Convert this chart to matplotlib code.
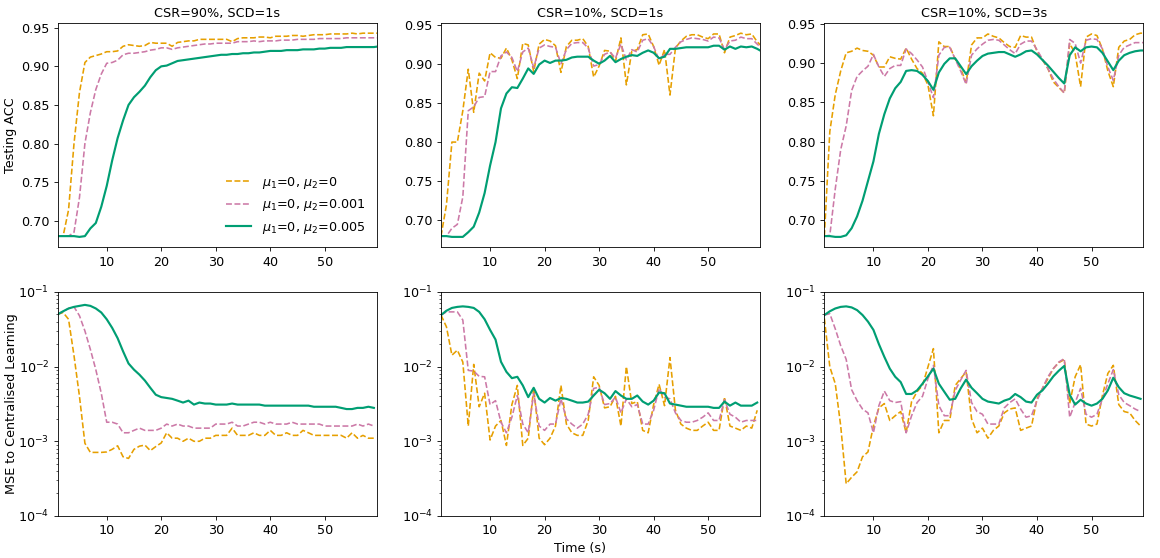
import numpy as np
import matplotlib
matplotlib.use("Agg")
import matplotlib.pyplot as plt

plt.rcParams['font.size'] = 9.2
plt.rcParams['axes.linewidth'] = 0.6
plt.rcParams['xtick.major.size'] = 2.6
plt.rcParams['ytick.major.size'] = 2.6
plt.rcParams['xtick.major.width'] = 0.6
plt.rcParams['ytick.major.width'] = 0.6
plt.rcParams['ytick.minor.size'] = 1.6
plt.rcParams['ytick.minor.width'] = 0.45

titles = ["CSR=90%, SCD=1s", "CSR=10%, SCD=1s", "CSR=10%, SCD=3s"]
labels = [r"$\mu_1$=0, $\mu_2$=0", r"$\mu_1$=0, $\mu_2$=0.001", r"$\mu_1$=0, $\mu_2$=0.005"]
colors = ["#E69F00", "#CC79A7", "#009E73"]

t_acc = np.arange(1, 61)
t_mse = np.arange(1, 60)

# ---- Testing ACC ----
acc_a_0 = [0.68, 0.68, 0.714, 0.80, 0.866, 0.905, 0.912, 0.914, 0.916, 0.919,
           0.919, 0.920, 0.926, 0.928, 0.927, 0.926, 0.927, 0.931, 0.930, 0.930,
           0.930, 0.926, 0.931, 0.932, 0.933, 0.933, 0.935, 0.935, 0.935, 0.935,
           0.935, 0.935, 0.932, 0.936, 0.937, 0.937, 0.937, 0.938, 0.938, 0.937,
           0.939, 0.939, 0.939, 0.940, 0.940, 0.939, 0.940, 0.941, 0.941, 0.941,
           0.942, 0.942, 0.942, 0.942, 0.943, 0.942, 0.943, 0.943, 0.943, 0.943]
acc_a_1 = [0.68, 0.68, 0.68, 0.685, 0.73, 0.80, 0.84, 0.87, 0.89, 0.904,
           0.905, 0.908, 0.915, 0.917, 0.917, 0.918, 0.919, 0.921, 0.922, 0.924,
           0.924, 0.922, 0.924, 0.925, 0.926, 0.927, 0.928, 0.929, 0.929, 0.930,
           0.930, 0.930, 0.930, 0.932, 0.932, 0.932, 0.933, 0.932, 0.933, 0.933,
           0.933, 0.934, 0.934, 0.934, 0.935, 0.935, 0.935, 0.935, 0.936, 0.936,
           0.936, 0.936, 0.936, 0.937, 0.937, 0.937, 0.937, 0.937, 0.937, 0.937]
acc_a_5 = [0.68, 0.68, 0.68, 0.68, 0.679, 0.68, 0.69, 0.697, 0.718, 0.745,
           0.778, 0.807, 0.83, 0.85, 0.86, 0.867, 0.875, 0.886, 0.895, 0.900,
           0.901, 0.904, 0.907, 0.908, 0.909, 0.910, 0.911, 0.912, 0.913, 0.914,
           0.915, 0.915, 0.916, 0.916, 0.917, 0.917, 0.918, 0.918, 0.919, 0.920,
           0.920, 0.920, 0.921, 0.921, 0.921, 0.922, 0.922, 0.922, 0.923, 0.923,
           0.924, 0.924, 0.924, 0.925, 0.925, 0.925, 0.925, 0.925, 0.925, 0.926]

acc_b_0 = [0.68, 0.72, 0.80, 0.80, 0.84, 0.893, 0.838, 0.888, 0.878, 0.914,
           0.908, 0.907, 0.920, 0.905, 0.881, 0.926, 0.924, 0.890, 0.925, 0.931,
           0.929, 0.923, 0.889, 0.922, 0.930, 0.930, 0.932, 0.922, 0.883, 0.897,
           0.917, 0.916, 0.903, 0.933, 0.873, 0.916, 0.918, 0.937, 0.938, 0.922,
           0.898, 0.918, 0.860, 0.920, 0.929, 0.935, 0.937, 0.937, 0.934, 0.932,
           0.938, 0.938, 0.914, 0.934, 0.936, 0.939, 0.937, 0.938, 0.928, 0.921]
acc_b_1 = [0.68, 0.68, 0.69, 0.695, 0.73, 0.84, 0.845, 0.857, 0.858, 0.89,
           0.89, 0.91, 0.915, 0.908, 0.89, 0.915, 0.92, 0.895, 0.92, 0.924,
           0.922, 0.921, 0.90, 0.918, 0.926, 0.927, 0.927, 0.92, 0.897, 0.899,
           0.912, 0.915, 0.907, 0.925, 0.905, 0.918, 0.915, 0.930, 0.932, 0.922,
           0.905, 0.912, 0.912, 0.921, 0.928, 0.931, 0.933, 0.932, 0.931, 0.929,
           0.934, 0.933, 0.918, 0.929, 0.930, 0.934, 0.932, 0.932, 0.925, 0.919]
acc_b_5 = [0.68, 0.680, 0.679, 0.679, 0.679, 0.685, 0.692, 0.71, 0.735, 0.77,
           0.80, 0.843, 0.862, 0.87, 0.869, 0.881, 0.894, 0.887, 0.899, 0.904,
           0.901, 0.904, 0.904, 0.905, 0.908, 0.909, 0.909, 0.909, 0.904, 0.900,
           0.904, 0.910, 0.902, 0.906, 0.909, 0.911, 0.910, 0.914, 0.917, 0.914,
           0.907, 0.909, 0.919, 0.919, 0.920, 0.921, 0.921, 0.921, 0.921, 0.921,
           0.923, 0.923, 0.918, 0.922, 0.919, 0.922, 0.921, 0.922, 0.919, 0.915]

acc_c_0 = [0.68, 0.813, 0.86, 0.89, 0.913, 0.915, 0.919, 0.916, 0.915, 0.910,
           0.895, 0.895, 0.908, 0.906, 0.905, 0.919, 0.905, 0.893, 0.887, 0.872,
           0.833, 0.927, 0.921, 0.921, 0.905, 0.893, 0.875, 0.923, 0.932, 0.932,
           0.937, 0.934, 0.932, 0.926, 0.921, 0.920, 0.935, 0.933, 0.933, 0.915,
           0.904, 0.893, 0.876, 0.869, 0.862, 0.925, 0.912, 0.870, 0.933, 0.937,
           0.935, 0.918, 0.890, 0.870, 0.920, 0.928, 0.930, 0.936, 0.938, 0.938]
acc_c_1 = [0.68, 0.681, 0.74, 0.79, 0.82, 0.865, 0.883, 0.89, 0.896, 0.911,
           0.895, 0.883, 0.893, 0.897, 0.897, 0.918, 0.912, 0.904, 0.895, 0.876,
           0.856, 0.910, 0.920, 0.920, 0.905, 0.890, 0.873, 0.910, 0.918, 0.924,
           0.929, 0.930, 0.929, 0.923, 0.917, 0.912, 0.924, 0.928, 0.928, 0.917,
           0.905, 0.893, 0.880, 0.870, 0.862, 0.930, 0.925, 0.900, 0.929, 0.931,
           0.930, 0.918, 0.895, 0.878, 0.910, 0.920, 0.923, 0.926, 0.926, 0.926]
acc_c_5 = [0.68, 0.680, 0.679, 0.679, 0.681, 0.69, 0.705, 0.725, 0.75, 0.775,
           0.81, 0.835, 0.855, 0.868, 0.876, 0.890, 0.891, 0.890, 0.885, 0.877,
           0.866, 0.888, 0.899, 0.906, 0.906, 0.896, 0.886, 0.896, 0.903, 0.909,
           0.912, 0.913, 0.914, 0.914, 0.911, 0.908, 0.911, 0.915, 0.916, 0.911,
           0.904, 0.897, 0.889, 0.881, 0.874, 0.910, 0.920, 0.915, 0.920, 0.921,
           0.920, 0.913, 0.902, 0.891, 0.903, 0.910, 0.913, 0.915, 0.916, 0.916]

# ---- MSE to centralised learning ----
mse_a_0 = [0.050, 0.053, 0.043, 0.014, 0.0040, 0.00094, 0.00071, 0.00071, 0.00071, 0.00072,
           0.00078, 0.00087, 0.00062, 0.00059, 0.00078, 0.00086, 0.00089, 0.00075, 0.00085, 0.00095,
           0.0013, 0.0011, 0.0011, 0.0010, 0.0011, 0.0010, 0.0010, 0.0011, 0.0011, 0.0012,
           0.0012, 0.0012, 0.0015, 0.0012, 0.0012, 0.0012, 0.0013, 0.0012, 0.0012, 0.0014,
           0.0012, 0.0012, 0.0013, 0.0012, 0.0012, 0.0014, 0.0013, 0.0012, 0.0012, 0.0012,
           0.0012, 0.0012, 0.0012, 0.0011, 0.0013, 0.0011, 0.0012, 0.0011, 0.0011]
mse_a_1 = [0.050, 0.055, 0.060, 0.063, 0.048, 0.030, 0.017, 0.0091, 0.0044, 0.0018,
           0.0018, 0.0017, 0.0013, 0.0013, 0.0014, 0.0015, 0.0014, 0.0014, 0.0014, 0.0015,
           0.0017, 0.0016, 0.0017, 0.0016, 0.0016, 0.0015, 0.0015, 0.0015, 0.0015, 0.0017,
           0.0017, 0.0017, 0.0018, 0.0016, 0.0016, 0.0017, 0.0018, 0.0018, 0.0017, 0.0018,
           0.0017, 0.0017, 0.0017, 0.0018, 0.0017, 0.0017, 0.0017, 0.0017, 0.0017, 0.0016,
           0.0016, 0.0016, 0.0016, 0.0016, 0.0016, 0.0017, 0.0016, 0.0017, 0.0016]
mse_a_5 = [0.050, 0.055, 0.060, 0.063, 0.065, 0.067, 0.065, 0.060, 0.053, 0.043,
           0.033, 0.024, 0.016, 0.011, 0.0091, 0.0078, 0.0065, 0.0052, 0.0042, 0.0039,
           0.0038, 0.0037, 0.0035, 0.0033, 0.0035, 0.0031, 0.0033, 0.0032, 0.0032, 0.0031,
           0.0031, 0.0031, 0.0032, 0.0031, 0.0031, 0.0031, 0.0031, 0.0031, 0.0030, 0.0030,
           0.0030, 0.0030, 0.0030, 0.0030, 0.0030, 0.0030, 0.0030, 0.0029, 0.0029, 0.0029,
           0.0029, 0.0029, 0.0028, 0.0027, 0.0027, 0.0028, 0.0028, 0.0029, 0.0028]

mse_b_0 = [0.049, 0.034, 0.0142, 0.0166, 0.0115, 0.0016, 0.0107, 0.0029, 0.0044, 0.00104,
           0.0016, 0.0019, 0.00088, 0.0031, 0.0056, 0.00088, 0.0011, 0.0051, 0.0011, 0.0009,
           0.0011, 0.0016, 0.0056, 0.0017, 0.0013, 0.0012, 0.0012, 0.0019, 0.0073, 0.0056,
           0.0028, 0.0029, 0.0040, 0.0016, 0.0100, 0.0032, 0.0034, 0.0014, 0.0013, 0.0031,
           0.0058, 0.0030, 0.0132, 0.0026, 0.0017, 0.0015, 0.0014, 0.0014, 0.0016, 0.0018,
           0.0014, 0.0014, 0.0039, 0.0016, 0.0015, 0.0014, 0.0016, 0.0015, 0.0026]
mse_b_1 = [0.049, 0.054, 0.054, 0.054, 0.042, 0.0089, 0.0087, 0.0074, 0.0073, 0.0031,
           0.0035, 0.0018, 0.0013, 0.0021, 0.0041, 0.0017, 0.0013, 0.0044, 0.0016, 0.0014,
           0.0017, 0.0017, 0.0037, 0.0020, 0.0017, 0.0015, 0.0017, 0.0023, 0.0051, 0.0053,
           0.0031, 0.0032, 0.0039, 0.0024, 0.0037, 0.0029, 0.0031, 0.0017, 0.0017, 0.0026,
           0.0051, 0.0039, 0.0037, 0.0024, 0.0019, 0.0018, 0.0018, 0.0019, 0.0021, 0.0024,
           0.0019, 0.0019, 0.0036, 0.0023, 0.0021, 0.0018, 0.0019, 0.0019, 0.0019]
mse_b_5 = [0.049, 0.056, 0.061, 0.063, 0.064, 0.063, 0.061, 0.054, 0.043, 0.031,
           0.023, 0.0116, 0.0085, 0.0070, 0.0073, 0.0056, 0.0039, 0.0052, 0.0037, 0.0033,
           0.0038, 0.0035, 0.0038, 0.0037, 0.0035, 0.0033, 0.0033, 0.0034, 0.0041, 0.0049,
           0.0044, 0.0037, 0.0047, 0.0041, 0.0037, 0.0037, 0.0041, 0.0034, 0.0031, 0.0035,
           0.0045, 0.0044, 0.0032, 0.0031, 0.0030, 0.0029, 0.0029, 0.0029, 0.0029, 0.0029,
           0.0028, 0.0028, 0.0034, 0.0030, 0.0033, 0.0030, 0.0030, 0.0030, 0.0033]

mse_c_0 = [0.044, 0.0099, 0.0059, 0.0016, 0.00027, 0.00033, 0.00039, 0.00062, 0.00072, 0.0016,
           0.0028, 0.0032, 0.0019, 0.0022, 0.0025, 0.0013, 0.0034, 0.0046, 0.0056, 0.0099,
           0.0174, 0.0013, 0.0019, 0.0019, 0.0056, 0.0069, 0.0085, 0.0020, 0.0013, 0.0015,
           0.0011, 0.0014, 0.0016, 0.0024, 0.0027, 0.0028, 0.0014, 0.0015, 0.0016, 0.0037,
           0.0051, 0.0069, 0.0094, 0.0113, 0.0124, 0.0032, 0.0073, 0.0106, 0.0017, 0.0016,
           0.0017, 0.0041, 0.0081, 0.0104, 0.0031, 0.0025, 0.0024, 0.0019, 0.0016]
mse_c_1 = [0.049, 0.051, 0.032, 0.019, 0.0125, 0.0049, 0.0035, 0.0027, 0.0024, 0.0013,
           0.0030, 0.0047, 0.0035, 0.0033, 0.0034, 0.0013, 0.0022, 0.0033, 0.0040, 0.0069,
           0.0104, 0.0030, 0.0022, 0.0022, 0.0048, 0.0066, 0.0089, 0.0033, 0.0025, 0.0023,
           0.0017, 0.0017, 0.0017, 0.0028, 0.0033, 0.0037, 0.0027, 0.0021, 0.0022, 0.0035,
           0.0051, 0.0073, 0.0094, 0.0115, 0.0128, 0.0021, 0.0033, 0.0051, 0.0023, 0.0021,
           0.0023, 0.0037, 0.0059, 0.0091, 0.0042, 0.0033, 0.0030, 0.0027, 0.0025]
mse_c_5 = [0.049, 0.055, 0.060, 0.063, 0.064, 0.062, 0.057, 0.049, 0.040, 0.031,
           0.020, 0.0135, 0.0094, 0.0073, 0.0062, 0.0043, 0.0043, 0.0048, 0.0059, 0.0074,
           0.0094, 0.0059, 0.0046, 0.0036, 0.0037, 0.0051, 0.0067, 0.0052, 0.0044, 0.0037,
           0.0034, 0.0033, 0.0032, 0.0035, 0.0037, 0.0043, 0.0039, 0.0034, 0.0033, 0.0042,
           0.0048, 0.0059, 0.0074, 0.0088, 0.0102, 0.0042, 0.0031, 0.0036, 0.0032, 0.0030,
           0.0032, 0.0037, 0.0048, 0.0071, 0.0053, 0.0044, 0.0041, 0.0039, 0.0037]

acc = [[acc_a_0, acc_a_1, acc_a_5], [acc_b_0, acc_b_1, acc_b_5], [acc_c_0, acc_c_1, acc_c_5]]
mse = [[mse_a_0, mse_a_1, mse_a_5], [mse_b_0, mse_b_1, mse_b_5], [mse_c_0, mse_c_1, mse_c_5]]

fig, axes = plt.subplots(2, 3, figsize=(11.6, 5.58), dpi=100)
fig.subplots_adjust(left=0.0497, right=0.9856, top=0.9588, bottom=0.0753,
                    wspace=0.202, hspace=0.2)

for j in range(3):
    ax = axes[0, j]
    for k in range(3):
        if k < 2:
            ax.plot(t_acc, acc[j][k], color=colors[k], ls='--', lw=1.15, label=labels[k])
        else:
            ax.plot(t_acc, acc[j][k], color=colors[k], lw=1.55, label=labels[k])
    ax.set_title(titles[j], fontsize=9.2, pad=4)
    ax.set_xlim(1, 59.5)
    ax.set_xticks([10, 20, 30, 40, 50])

    ax = axes[1, j]
    for k in range(3):
        if k < 2:
            ax.semilogy(t_mse, mse[j][k], color=colors[k], ls='--', lw=1.15)
        else:
            ax.semilogy(t_mse, mse[j][k], color=colors[k], lw=1.55)
    ax.set_ylim(1e-4, 1e-1)
    ax.set_xlim(1, 59.5)
    ax.set_xticks([10, 20, 30, 40, 50])

axes[0, 0].set_ylabel("Testing ACC")
axes[1, 0].set_ylabel("MSE to Centralised Learning")
axes[0, 0].yaxis.set_label_coords(-0.127, 0.5)
axes[1, 0].yaxis.set_label_coords(-0.125, 0.5)
axes[0, 0].legend(loc='lower right', frameon=False, fontsize=9.2)
fig.supxlabel("Time (s)", fontsize=9.2, y=0.005)

fig.savefig("out.png", dpi=100)
